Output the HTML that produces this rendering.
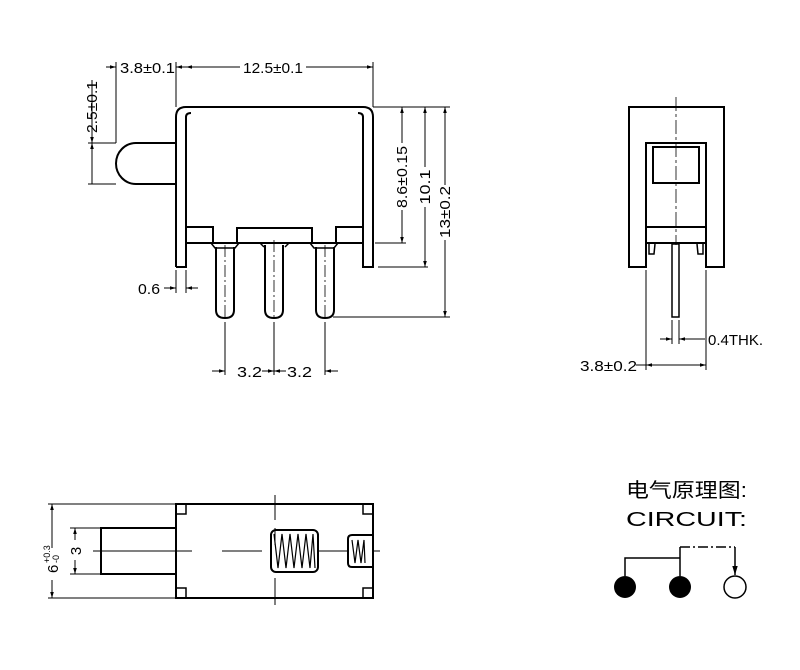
<!DOCTYPE html>
<html><head><meta charset="utf-8"><style>
html,body{margin:0;padding:0;background:#fff;}
svg{display:block}
text{font-family:"Liberation Sans","Noto Sans CJK SC",sans-serif;fill:#000}
</style></head><body>
<svg width="800" height="670" viewBox="0 0 800 670" xmlns="http://www.w3.org/2000/svg">
<defs>
<marker id="a" viewBox="0 0 10 10" refX="10" refY="5" markerWidth="6" markerHeight="6" orient="auto-start-reverse"><path d="M0,2 L10,5 L0,8 z" fill="#000"/></marker>
</defs>
<g fill="none" stroke="#000" stroke-width="2">
<path d="M176,267 V117 Q176,107 186,107 H363 Q373,107 373,117 V267 H363 V117 Q363,113 358,113 M176,267 H186 V117 Q186,113 191,113"/>
<path d="M186,227 H213 V243 M237,243 V228 H312 V243 M336,243 V227 H363 M186,243 H363"/>
<path d="M176,143 H136 A20,20.5 0 0 0 136,184 H176"/>
<path d="M216,247 V310 Q216,318 225,318 Q234,318 234,310 V247"/>
<path d="M265,245 V310 Q265,318 274,318 Q283,318 283,310 V245"/>
<path d="M316,247 V310 Q316,318 325,318 Q334,318 334,310 V247"/>
<path d="M211,243 l4,5 h20 l4,-5 M310,243 l4,5 h20 l4,-5" stroke-width="1.5"/>
<path d="M260,243 l4,4 M289,243 l-4,4" stroke-width="1.5"/>
</g>
<g fill="none" stroke="#000" stroke-width="0.8" stroke-dasharray="12,3,2,3">
<path d="M225,245 V317 M274,240 V317 M325,245 V317"/>
</g>
<g fill="none" stroke="#000" stroke-width="1">
<path d="M116,62 V143 M176,62 V107 M373,62 V107"/>
<path d="M106,67 H116" marker-end="url(#a)"/>
<path d="M186,67 H176" marker-end="url(#a)"/>
<path d="M240,67 H186" marker-end="url(#a)"/>
<path d="M306,67 H373" marker-end="url(#a)"/>
<path d="M88,143 H116 M88,184 H116"/>
<path d="M92,80 V143" marker-end="url(#a)"/>
<path d="M92,184 V143" marker-end="url(#a)"/>
<path d="M373,107 H450 M375,243 H406 M378,267 H428 M333,317 H450"/>
<path d="M402,143 V107" marker-end="url(#a)"/><path d="M402,210 V243" marker-end="url(#a)"/>
<path d="M425,167 V107" marker-end="url(#a)"/><path d="M425,207 V267" marker-end="url(#a)"/>
<path d="M445,185 V107" marker-end="url(#a)"/><path d="M445,240 V317" marker-end="url(#a)"/>
<path d="M164,288 H176" marker-end="url(#a)"/><path d="M198,288 H186" marker-end="url(#a)"/>
<path d="M176,270 V293 M186,270 V293"/>
<path d="M225,322 V375 M274,322 V375 M325,322 V375"/>
<path d="M212,371 H225" marker-end="url(#a)"/>
<path d="M262,371 H274" marker-end="url(#a)"/><path d="M286,371 H274" marker-end="url(#a)"/>
<path d="M338,371 H325" marker-end="url(#a)"/>
</g>
<g font-size="15">
<text x="120" y="73" textLength="55" lengthAdjust="spacingAndGlyphs">3.8±0.1</text>
<text x="243" y="73" textLength="60" lengthAdjust="spacingAndGlyphs">12.5±0.1</text>
<text x="138" y="294" textLength="22" lengthAdjust="spacingAndGlyphs">0.6</text>
<text x="237" y="377" textLength="25" lengthAdjust="spacingAndGlyphs">3.2</text>
<text x="287" y="377" textLength="25" lengthAdjust="spacingAndGlyphs">3.2</text>
<text transform="translate(97,107) rotate(-90)" text-anchor="middle" textLength="52" lengthAdjust="spacingAndGlyphs">2.5±0.1</text>
<text transform="translate(407,177) rotate(-90)" text-anchor="middle" textLength="62" lengthAdjust="spacingAndGlyphs">8.6±0.15</text>
<text transform="translate(430,187) rotate(-90)" text-anchor="middle" textLength="35" lengthAdjust="spacingAndGlyphs">10.1</text>
<text transform="translate(450,212) rotate(-90)" text-anchor="middle" textLength="52" lengthAdjust="spacingAndGlyphs">13±0.2</text>
</g>
<g fill="none" stroke="#000" stroke-width="2">
<path d="M629,267 V107 H724 V267 H706 V143 H646 V267 Z"/>
<rect x="653" y="147" width="46" height="36"/>
<path d="M646,227 H706 M646,243 H706"/>
<path d="M649,244 v10 h5 l1,-10 M703,244 v10 h-5 l-1,-10" stroke-width="1.5"/>
<rect x="672" y="244" width="7" height="73" stroke-width="1.5"/>
</g>
<path d="M676,97 V245" stroke="#000" stroke-width="0.8" stroke-dasharray="14,3,3,3" fill="none"/>
<g fill="none" stroke="#000" stroke-width="1">
<path d="M646,270 V370 M706,270 V370 M672,320 V344 M679,320 V344"/>
<path d="M660,339 H672" marker-end="url(#a)"/><path d="M705,339 H679" marker-end="url(#a)"/>
<path d="M676,365 H646" marker-end="url(#a)"/><path d="M676,365 H706" marker-end="url(#a)"/>
<path d="M636,365 H646"/>
</g>
<g font-size="15">
<text x="708" y="345" textLength="55" lengthAdjust="spacingAndGlyphs">0.4THK.</text>
<text x="580" y="371" textLength="57" lengthAdjust="spacingAndGlyphs">3.8±0.2</text>
</g>
<g fill="none" stroke="#000" stroke-width="2">
<rect x="176" y="504" width="197" height="94"/>
<path d="M176,528 H101 V574 H176"/>
<rect x="271" y="530" width="47" height="42" rx="5"/>
<path d="M373,535 H352 Q348,535 348,539 V563 Q348,567 352,567 H373"/>
<path d="M176,514 H186 V504 M363,504 V514 H373 M176,588 H186 V598 M363,598 V588 H373" stroke-width="1.5"/>
<path d="M274,534 L278,568 L282,534 L286,568 L290,534 L294,568 L298,534 L302,568 L306,534 L310,568 L313,534 L315,568" stroke-width="1.2"/>
<path d="M352,540 L355,563 L358,540 L361,563 L364,540 L365,563" stroke-width="1.2"/>
</g>
<g fill="none" stroke="#000" stroke-width="1">
<path d="M93,551 H192 M222,551 H262 M318,551 H348 M372,551 H380"/>
<path d="M275,495 V520 M275,528 V545 M275,578 V605" />
<path d="M48,504 H176 M48,598 H176 M70,528 H101 M70,574 H101"/>
<path d="M52,548 V504" marker-end="url(#a)"/><path d="M52,593 V598" marker-end="url(#a)"/><path d="M52,580 V593"/>
<path d="M75,540 V528" marker-end="url(#a)"/><path d="M75,560 V574" marker-end="url(#a)"/>
</g>
<g font-size="15">
<text transform="translate(81,551) rotate(-90)" text-anchor="middle">3</text>
<text transform="translate(58,573) rotate(-90)" text-anchor="start">6</text>
<text transform="translate(50,563) rotate(-90)" font-size="9">+0.3</text>
<text transform="translate(59,563) rotate(-90)" font-size="9">-0</text>
</g>
<text x="626" y="497" font-size="20" textLength="121" lengthAdjust="spacingAndGlyphs">电气原理图:</text>
<text x="626" y="526" font-size="20" textLength="121" lengthAdjust="spacingAndGlyphs">CIRCUIT:</text>
<g fill="none" stroke="#000" stroke-width="1.5">
<path d="M625,576 V558 H680 V576 M680,558 V547"/>
<path d="M680,547 H735" stroke-dasharray="10,3,2,3"/>
<path d="M735,547 V575" marker-end="url(#a)"/>
<circle cx="735" cy="587" r="11"/>
</g>
<circle cx="625" cy="587" r="11" fill="#000"/>
<circle cx="680" cy="587" r="11" fill="#000"/>
</svg>
</body></html>
